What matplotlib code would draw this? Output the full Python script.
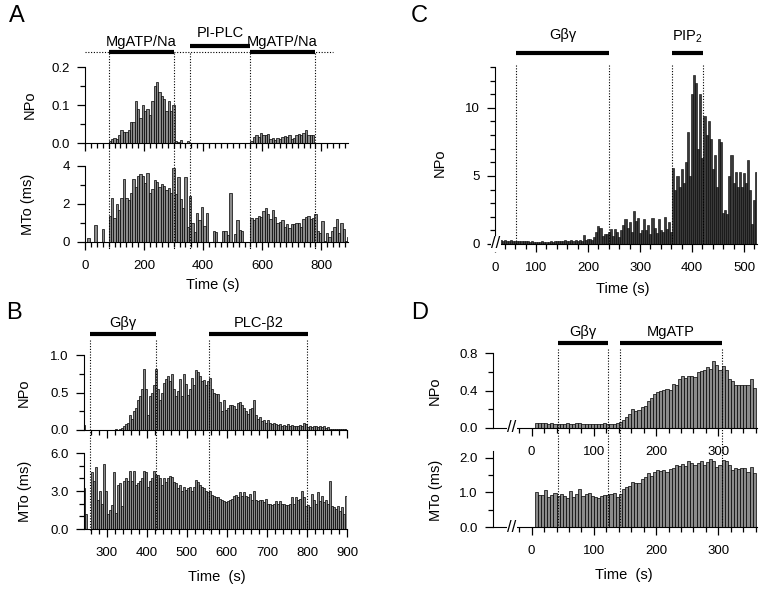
import numpy as np
import matplotlib
matplotlib.use("Agg")
import matplotlib.pyplot as plt
from matplotlib.lines import Line2D
from matplotlib.ticker import MultipleLocator, FixedLocator, FormatStrFormatter
from matplotlib.transforms import blended_transform_factory

plt.rcParams["font.family"] = ["Liberation Sans", "DejaVu Sans"]
plt.rcParams["mathtext.default"] = "regular"

# ---------------- data ----------------
# panel A: 8 s bins starting at 0 s
A_start, A_bin = 0, 8
A_npo = [0] * 10 + [
    0.005, 0.01, 0.013, 0.01, 0.02, 0.035, 0.03, 0.03, 0.033, 0.055,
    0.055, 0.11, 0.09, 0.065, 0.1, 0.085, 0.09, 0.075, 0.11, 0.15,
    0.16, 0.135, 0.125, 0.115, 0.085, 0.11, 0.085, 0.1,
    0.005, 0.003, 0.008, 0, 0, 0.005] + [0] * 26 + [
    0.005, 0.015, 0.02, 0.017, 0.027, 0.02, 0.022, 0.025, 0.01, 0.012,
    0.008, 0.012, 0.01, 0.015, 0.018, 0.015, 0.02, 0.01, 0.012, 0.02,
    0.025, 0.02, 0.027, 0.035, 0.02, 0.022, 0.02] + [0] * 15
A_mto = [
    0, 0.2, 0, 0, 0.9, 0, 0, 0.7, 0, 0,
    1.35, 2.3, 1.25, 2.0, 1.7, 2.3, 3.3, 2.3, 2.2, 2.6,
    3.3, 2.9, 3.5, 3.6, 3.45, 3.1, 3.65, 2.6, 2.8, 3.25,
    3.15, 2.9, 3.05, 2.95, 2.75, 2.85, 2.6, 3.9,
    2.55, 3.4, 2.25, 1.8, 3.4, 0.8, 2.4, 1.0, 0.55, 1.55,
    1.15, 1.85, 0.85, 1.55, 0, 0,
    0.6, 0.55, 0, 0, 0.6, 0.6, 0.35, 2.6, 0, 0.4,
    1.15, 0.65, 0.6, 0, 0, 0,
    1.25, 1.15, 1.25, 1.35, 1.3, 1.65, 1.8, 1.45, 1.2, 1.7,
    1.3, 1.0, 1.05, 1.15, 0.8, 0.95, 0.75, 0.95, 0.95, 1.0,
    1.0, 0.8, 1.2, 1.3, 1.35, 1.2, 1.25, 1.5,
    0.6, 0.45, 1.1, 0.05, 0.45, 0.25, 0.6, 0.8, 1.2, 0.45,
    1.0, 0.7, 0.05, 0.25]
A_events = [80, 302, 357, 557, 780]
A_sol = [("MgATP/Na", 80, 302, 52, 42), ("PI-PLC", 357, 557, 46, 33),
         ("MgATP/Na", 557, 780, 52, 42)]

# panel B: 5 s bins starting at 240 s
B_start, B_bin = 240, 5
B_npo = [
    0.07, 0, 0, 0, 0.005, 0, 0, 0, 0, 0,
    0.005, 0, 0, 0, 0, 0, 0.01, 0.005, 0.02, 0.03,
    0.05, 0.08, 0.1, 0.2, 0.15, 0.25, 0.3, 0.4, 0.45, 0.55,
    0.82, 0.55, 0.2, 0.45, 0.5, 0.6, 0.82, 0.55, 0.4, 0.5,
    0.63, 0.68, 0.72, 0.65, 0.75, 0.55, 0.45, 0.52, 0.68, 0.45,
    0.75, 0.62, 0.47, 0.55, 0.7, 0.6, 0.8, 0.78, 0.72, 0.65,
    0.67, 0.6, 0.65, 0.7, 0.55, 0.5, 0.48, 0.48, 0.37, 0.25,
    0.4, 0.27, 0.3, 0.33, 0.34, 0.32, 0.28, 0.36, 0.38, 0.33,
    0.3, 0.25, 0.22, 0.28, 0.3, 0.4, 0.2, 0.15, 0.18, 0.12,
    0.14, 0.1, 0.13, 0.1, 0.08, 0.09, 0.08, 0.07, 0.08, 0.06,
    0.07, 0.05, 0.08, 0.05, 0.07, 0.05, 0.06, 0.05, 0.07, 0.06,
    0.1, 0.08, 0.04, 0.05, 0.04, 0.06, 0.05, 0.04, 0.06, 0.04,
    0.05, 0.03, 0.04, 0.02, 0.01, 0.01, 0.01, 0.01, 0.01, 0.01,
    0.01, 0.015]
B_mto = [
    3.2, 1.2, 0, 0, 4.5, 3.8, 4.9, 2.3, 3.0, 2.0,
    5.1, 3.0, 1.2, 1.5, 1.9, 4.5, 1.3, 3.5, 3.6, 1.8,
    3.8, 4.0, 3.8, 4.6, 3.8, 4.6, 3.5, 3.6, 3.8, 4.0,
    4.6, 4.5, 3.3, 3.8, 4.0, 4.6, 4.3, 4.3, 4.0, 3.5,
    4.0, 3.7, 4.0, 4.2, 4.1, 3.7, 3.6, 3.2, 3.5, 3.0,
    3.3, 3.1, 3.2, 3.3, 3.0, 3.3, 3.9, 3.7, 3.5, 3.3,
    3.2, 3.0, 2.9, 3.0, 2.7, 2.6, 2.5, 2.5, 2.4, 2.3,
    2.2, 2.1, 2.2, 2.3, 2.4, 2.6, 2.7, 2.5, 2.9, 2.6,
    2.9, 2.6, 2.5, 2.8, 2.3, 3.0, 2.3, 2.2, 2.3, 2.3,
    2.1, 2.4, 2.0, 2.0, 1.9, 2.0, 2.2, 2.0, 2.2, 2.0,
    2.0, 1.9, 1.9, 2.0, 2.5, 2.0, 2.5, 2.3, 2.4, 3.0,
    2.5, 1.8, 1.9, 1.7, 2.8, 2.3, 2.0, 2.9, 2.2, 2.6,
    2.1, 2.3, 2.0, 3.8, 1.8, 1.7, 1.6, 1.8, 1.4, 1.7,
    1.2, 2.6]
B_events = [258, 423, 556, 800]
B_sol = [("G\u03b2\u03b3", 258, 423, 334, 323), ("PLC-\u03b22", 556, 803, 334, 323)]

# panel C: 4 s bins starting at 22 s
C_start, C_bin = 22, 4
C_npo = [
    0.3, 0.25, 0.28, 0.25, 0.3, 0.22, 0.25, 0.28, 0.22, 0.25,
    0.2, 0.25, 0.22, 0.2, 0.25, 0.2, 0.18, 0.22, 0.15, 0.18,
    0.12, 0.15, 0.2, 0.15, 0.12, 0.18, 0.2, 0.15, 0.22, 0.2,
    0.25, 0.2, 0.22, 0.28, 0.25, 0.2, 0.3, 0.25, 0.28, 0.22,
    0.3, 0.25, 0.65, 0.3, 0.35,
    0.4, 0.3, 0.5, 0.9, 1.3, 1.2, 0.6, 0.7, 0.75, 0.9,
    1.1, 0.6, 1.1, 0.9, 0.5, 1.0, 1.4, 1.8, 1.2, 1.6,
    0.9, 2.4, 1.7, 1.9, 0.8, 1.0, 1.8, 1.0, 1.4, 0.7,
    1.9, 1.2, 0.8, 1.8, 1.0, 0.9, 2.0, 1.1, 1.6, 0.9,
    5.6, 4.0, 5.0, 4.2, 5.5, 4.5, 6.0, 8.2, 5.0, 11.0,
    12.4, 11.8, 7.0, 11.0, 6.3, 9.4, 8.0, 9.0, 7.7, 5.5,
    6.5, 4.2, 7.7, 7.5, 2.3, 2.5, 2.2, 5.0, 6.5, 4.5,
    5.3, 4.2, 5.3, 4.2, 5.2, 4.5, 6.2, 4.0, 1.5, 3.2,
    5.3]
C_events = [61, 241, 361, 422]
C_sol = [("G\u03b2\u03b3", 61, 241, 53, 35), ("PIP$_{2}$", 361, 422, 53, 37)]

# panel D: 5 s bins starting at 5 s
D_start, D_bin = 5, 5
D_npo = [
    0.05, 0.055, 0.05, 0.05, 0.045, 0.05, 0.045, 0.04, 0.045, 0.04,
    0.05, 0.045, 0.045, 0.05, 0.05, 0.045, 0.04, 0.04, 0.045, 0.04,
    0.045, 0.045, 0.05, 0.045, 0.04, 0.045, 0.05,
    0.06, 0.09, 0.12, 0.15, 0.2, 0.18, 0.19, 0.22, 0.23, 0.29,
    0.32, 0.36, 0.38, 0.4, 0.41, 0.42, 0.41, 0.47, 0.46, 0.52,
    0.56, 0.53, 0.55, 0.55, 0.54, 0.6, 0.61, 0.62, 0.65, 0.63,
    0.71, 0.67, 0.62, 0.66, 0.62, 0.52, 0.5, 0.46, 0.46, 0.46,
    0.46, 0.46, 0.52, 0.43]
D_mto = [
    1.02, 0.93, 0.94, 1.07, 0.88, 0.93, 0.97, 0.9, 0.95, 0.9,
    0.85, 1.04, 0.88, 0.95, 1.1, 0.9, 0.96, 0.98, 0.9, 0.88,
    0.85, 0.9, 0.93, 0.92, 0.96, 0.98, 0.86,
    0.95, 1.1, 1.15, 1.2, 1.3, 1.28, 1.28, 1.4, 1.45, 1.55,
    1.48, 1.6, 1.65, 1.62, 1.65, 1.6, 1.68, 1.72, 1.8, 1.78,
    1.82, 1.78, 1.9, 1.85, 1.8, 1.85, 1.9, 1.8, 1.88, 1.98,
    1.9, 1.75, 1.8, 1.95, 1.9, 1.8, 1.65, 1.72, 1.68, 1.72,
    1.7, 1.6, 1.75, 1.55]
D_events = [43, 122, 142, 305]
D_sol = [("G\u03b2\u03b3", 43, 122, 343, 332), ("MgATP", 142, 305, 343, 332)]

# ---------------- figure ----------------
W, H = 765, 590
fig = plt.figure(figsize=(W / 100, H / 100), dpi=100)

GRAY = "#8a8a8a"


def add_ax(l, t, r, b):
    ax = fig.add_axes([l / W, 1 - b / H, (r - l) / W, (b - t) / H])
    ax.patch.set_visible(False)
    return ax


def draw_bars(ax, start, width, vals, fc=GRAY, lw=0.5):
    x = start + width * np.arange(len(vals))
    ax.bar(x, vals, width=width, align="edge", color=fc, edgecolor="black",
           linewidth=lw)


def style(ax, xlim, ylim, ymaj, ymin, yfmt, xmaj, xmin, xlabels=True):
    ax.set_xlim(xlim)
    ax.set_ylim(ylim)
    ax.spines["top"].set_visible(False)
    ax.spines["right"].set_visible(False)
    ax.yaxis.set_major_locator(MultipleLocator(ymaj))
    ax.yaxis.set_minor_locator(MultipleLocator(ymin))
    ax.yaxis.set_major_formatter(FormatStrFormatter(yfmt))
    ax.xaxis.set_major_locator(FixedLocator(xmaj))
    ax.xaxis.set_minor_locator(FixedLocator(xmin))
    ax.tick_params(which="major", length=6, width=0.9, labelsize=9.5)
    ax.tick_params(which="minor", length=3.5, width=0.9)
    ax.tick_params(axis="x", which="major", pad=7)
    ax.tick_params(axis="y", which="major", pad=5)
    if not xlabels:
        ax.tick_params(axis="x", labelbottom=False)


def ylab(ax, text, xfrac, yfrac=0.5):
    ax.set_ylabel(text, fontsize=10.5)
    ax.yaxis.set_label_coords(xfrac, yfrac)


def events(ax, times, top_px, bot_px):
    tr = blended_transform_factory(ax.transData, fig.transFigure)
    for t in times:
        fig.add_artist(Line2D([t, t], [1 - top_px / H, 1 - bot_px / H],
                              transform=tr, color="black", lw=0.8,
                              linestyle=(0, (1, 1.5))))


def solutions(ax, sols):
    tr = blended_transform_factory(ax.transData, fig.transFigure)
    for name, t0, t1, y_bar, y_txt in sols:
        fig.add_artist(Line2D([t0, t1], [1 - y_bar / H] * 2, transform=tr,
                              color="black", lw=3, solid_capstyle="butt"))
        fig.text((t0 + t1) / 2, 1 - y_txt / H, name, transform=tr,
                 ha="center", va="center", fontsize=10.5)


def axis_break(ax, t):
    ax.text(t, 0, "//", transform=blended_transform_factory(ax.transData, ax.transAxes),
            ha="center", va="center", fontsize=12, clip_on=False,
            bbox=dict(fc="white", ec="none", pad=0.3), zorder=5)


def letter(x, y, s):
    fig.text(x / W, 1 - y / H, s, fontsize=17, ha="left", va="top")


# ---- panel A ----
a1 = add_ax(85, 67, 348, 143)
a2 = add_ax(85, 166, 348, 242)
draw_bars(a1, A_start, A_bin, A_npo)
draw_bars(a2, A_start, A_bin, A_mto)
style(a1, (0, 890), (0, 0.2), 0.1, 0.05, "%.1f",
      np.arange(0, 900, 200), np.arange(0, 900, 20), xlabels=False)
style(a2, (0, 890), (0, 4), 2, 1, "%d",
      np.arange(0, 900, 200), np.arange(0, 900, 20))
ylab(a1, "NPo", (37 - 85) / 263)
ylab(a2, "MTo (ms)", (35 - 85) / 263)
trA = blended_transform_factory(a1.transData, fig.transFigure)
fig.add_artist(Line2D([0, 840], [1 - 52 / H] * 2, transform=trA, color="black",
                      lw=0.8, linestyle=(0, (1, 1.5))))
events(a1, A_events, 53, 250)
solutions(a1, A_sol)
fig.text(213 / W, 1 - 285 / H, "Time (s)", ha="center", va="center", fontsize=10.5)
letter(9, 5, "A")

# ---- panel B ----
b1 = add_ax(84, 355, 347, 430)
b2 = add_ax(84, 453, 347, 529)
draw_bars(b1, B_start, B_bin, B_npo)
draw_bars(b2, B_start, B_bin, B_mto)
style(b1, (243, 900), (0, 1.0), 0.5, 0.25, "%.1f",
      np.arange(300, 901, 100), np.arange(260, 901, 20), xlabels=False)
style(b2, (243, 900), (0, 6), 3, 1, "%.1f",
      np.arange(300, 901, 100), np.arange(260, 901, 20))
ylab(b1, "NPo", (31 - 84) / 263)
ylab(b2, "MTo (ms)", (32 - 84) / 263)
events(b1, B_events, 340, 531)
solutions(b1, B_sol)
fig.text(217 / W, 1 - 577 / H, "Time  (s)", ha="center", va="center", fontsize=10.5)
letter(6, 302, "B")

# ---- panel C ----
c1 = add_ax(495, 67, 757, 244)
draw_bars(c1, C_start, C_bin, C_npo, fc="#3a3a3a", lw=0.4)
style(c1, (21, 525), (0, 13), 5, 1, "%d",
      [21, 100, 200, 300, 400, 500], np.arange(40, 526, 20))
c1.set_xticklabels(["0", "100", "200", "300", "400", "500"])
ylab(c1, "NPo", (447 - 495) / 262, 0.46)
events(c1, C_events, 65, 244)
solutions(c1, C_sol)
axis_break(c1, 23)
fig.text(623 / W, 1 - 289 / H, "Time (s)", ha="center", va="center", fontsize=10.5)
letter(411, 5, "C")

# ---- panel D ----
d1 = add_ax(493, 353, 757, 428)
d2 = add_ax(493, 451, 757, 527)
draw_bars(d1, D_start, D_bin, D_npo)
draw_bars(d2, D_start, D_bin, D_mto)
style(d1, (-62, 362), (0, 0.8), 0.4, 0.2, "%.1f",
      np.arange(0, 361, 100), np.arange(-20, 361, 20))
style(d2, (-62, 362), (0, 2.2), 1, 0.5, "%.1f",
      np.arange(0, 361, 100), np.arange(-20, 361, 20))
ylab(d1, "NPo", (442 - 493) / 264)
ylab(d2, "MTo (ms)", (443 - 493) / 264, 0.48)
events(d1, D_events, 349, 527)
solutions(d1, D_sol)
axis_break(d1, -32)
axis_break(d2, -32)
fig.text(624 / W, 1 - 575 / H, "Time  (s)", ha="center", va="center", fontsize=10.5)
letter(411, 302, "D")

fig.savefig("out.png", dpi=100)
